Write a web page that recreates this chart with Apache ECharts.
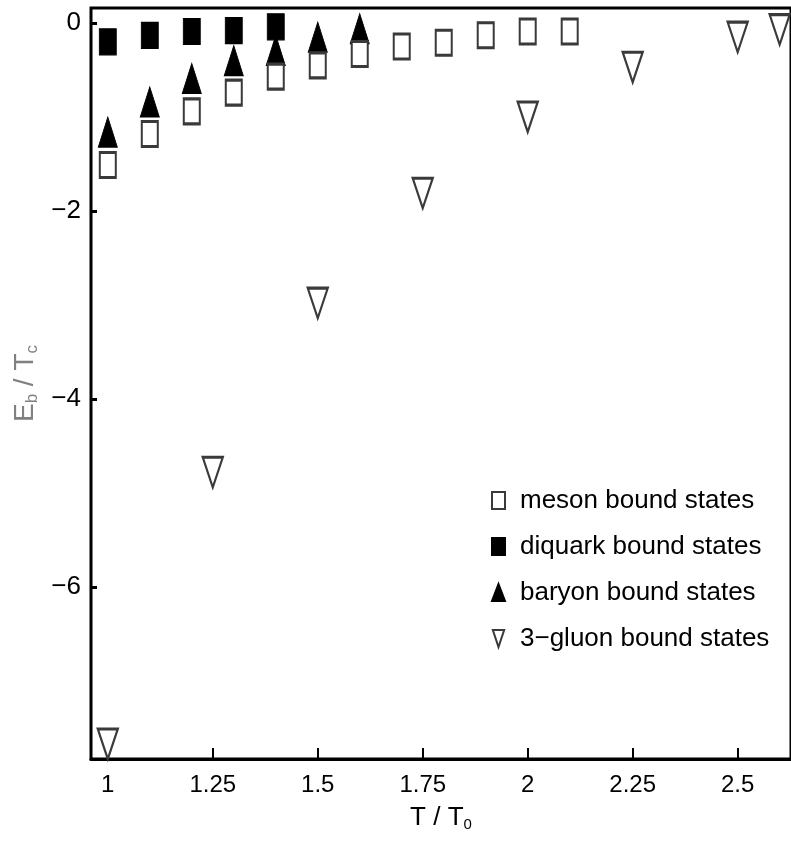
<!DOCTYPE html>
<html>
<head>
<meta charset="utf-8">
<script src="https://cdn.jsdelivr.net/npm/echarts@6/dist/echarts.min.js"></script>
<style>
  html, body { margin: 0; padding: 0; background: #fff; }
  #chart { width: 791px; height: 850px; }
</style>
</head>
<body>
<div id="chart"></div>
<script>
// Binding energies E_b / T_c versus temperature T / T_0
const mesonT   = [1.0, 1.1, 1.2, 1.3, 1.4, 1.5, 1.6, 1.7, 1.8, 1.9, 2.0, 2.1];
const mesonE   = [-1.51, -1.18, -0.94, -0.74, -0.57, -0.45, -0.33, -0.25, -0.21, -0.13, -0.09, -0.09];

const diquarkT = [1.0, 1.1, 1.2, 1.3, 1.4];
const diquarkE = [-0.20, -0.13, -0.09, -0.08, -0.04];

const baryonT  = [1.0, 1.1, 1.2, 1.3, 1.4, 1.5, 1.6];
const baryonE  = [-1.16, -0.84, -0.59, -0.40, -0.29, -0.15, -0.06];

const gluonT   = [1.0, 1.25, 1.5, 1.75, 2.0, 2.25, 2.5, 2.6];
const gluonE   = [-7.67, -4.78, -2.98, -1.81, -1.00, -0.47, -0.15, -0.07];

const xTicks = [1, 1.25, 1.5, 1.75, 2, 2.25, 2.5];
const yTicks = [0, -2, -4, -6];

const seriesNames = ['meson bound states', 'diquark bound states', 'baryon bound states', '3\u2212gluon bound states'];

const FONT = "'Liberation Sans Narrow', 'Arial Narrow', 'Liberation Sans', sans-serif";
const DOWN_TRIANGLE = 'path://M0,0 L20,0 L10,30 Z';

function pairs(xs, ys) { return xs.map((x, i) => [x, ys[i]]); }

const chart = echarts.init(document.getElementById('chart'), null, { renderer: 'canvas' });

chart.setOption({
  animation: false,
  backgroundColor: '#ffffff',
  grid: { left: 91, top: 8, width: 702, height: 751, show: true, borderColor: '#000', borderWidth: 3, backgroundColor: 'transparent' },
  xAxis: {
    type: 'value', min: 0.96, max: 2.627,
    name: 'T / T{sub|0}', nameLocation: 'middle', nameGap: 44,
    nameTextStyle: { fontFamily: FONT, fontSize: 26, color: '#000',
      rich: { sub: { fontFamily: FONT, fontSize: 15, color: '#000', verticalAlign: 'bottom', padding: [14, 0, 0, 0] } } },
    axisLine: { show: true, onZero: false, lineStyle: { color: '#000', width: 3 } },
    axisTick: { show: true, inside: true, length: 11, customValues: xTicks, lineStyle: { color: '#000', width: 2 } },
    axisLabel: { customValues: xTicks, fontFamily: FONT, fontSize: 24, color: '#000', margin: 14,
      formatter: v => String(v) },
    splitLine: { show: false }
  },
  yAxis: {
    type: 'value', min: -7.83, max: 0.16,
    name: 'E{sub|b} / T{sub|c}', nameLocation: 'middle', nameGap: 50, nameRotate: 90,
    nameTextStyle: { fontFamily: FONT, fontSize: 28, color: '#808080',
      rich: { sub: { fontFamily: FONT, fontSize: 17, color: '#808080', padding: [14, 0, 0, 0] } } },
    axisLine: { show: true, onZero: false, lineStyle: { color: '#000', width: 2 } },
    axisTick: { show: true, inside: true, length: 6, customValues: yTicks, lineStyle: { color: '#000', width: 3 } },
    axisLabel: { customValues: yTicks, fontFamily: FONT, fontSize: 26, color: '#000', margin: 10,
      formatter: v => (v < 0 ? '\u2212' + (-v) : String(v)) },
    splitLine: { show: false }
  },
  legend: {
    orient: 'vertical', left: 486, top: 482, itemGap: 19, itemWidth: 13, itemHeight: 17,
    textStyle: { fontFamily: FONT, fontSize: 26, color: '#000', lineHeight: 27, padding: [0, 0, 0, 10] },
    data: seriesNames.map(n => ({ name: n }))
  },
  series: [
    {
      name: seriesNames[3], type: 'scatter', data: pairs(gluonT, gluonE),
      symbol: DOWN_TRIANGLE, symbolSize: [20, 30],
      itemStyle: { color: '#fff', borderColor: '#3a3a3a', borderWidth: 2.5, opacity: 1 }, z: 2
    },
    {
      name: seriesNames[2], type: 'scatter', data: pairs(baryonT, baryonE),
      symbol: 'triangle', symbolSize: [19, 30],
      itemStyle: { color: '#000', borderColor: '#000', borderWidth: 1, opacity: 1 }, z: 3
    },
    {
      name: seriesNames[0], type: 'scatter', data: pairs(mesonT, mesonE),
      symbol: 'rect', symbolSize: [16, 25],
      itemStyle: { color: '#fff', borderColor: '#3a3a3a', borderWidth: 2.5, opacity: 1 }, z: 4
    },
    {
      name: seriesNames[1], type: 'scatter', data: pairs(diquarkT, diquarkE),
      symbol: 'rect', symbolSize: [17, 26],
      itemStyle: { color: '#000', borderColor: '#000', borderWidth: 1, opacity: 1 }, z: 5
    }
  ]
});
</script>
</body>
</html>
